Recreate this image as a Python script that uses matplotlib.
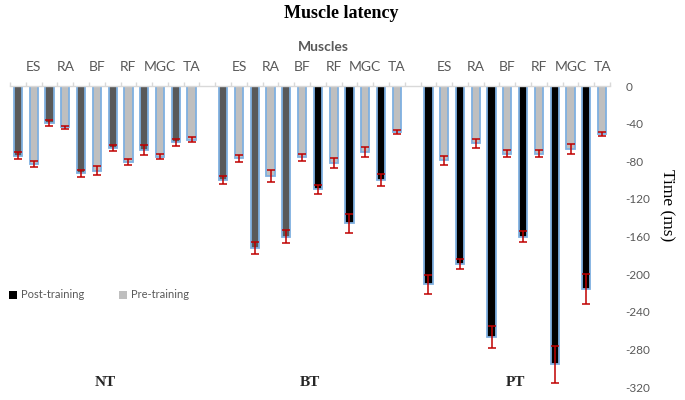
import matplotlib
matplotlib.use("Agg")
import matplotlib.pyplot as plt
from matplotlib.patches import Patch
from matplotlib.transforms import blended_transform_factory
import numpy as np

muscles = ["ES", "RA", "BF", "RF", "MGC", "TA"]
groups = ["NT", "BT", "PT"]

post_NT = [-74, -39, -93, -66, -68, -60]
pre_NT = [-83, -44, -90, -81, -75, -57]
post_NT_err = [4, 3, 3.5, 3, 5, 3.5]
pre_NT_err = [3.5, 1.5, 4.5, 3, 3, 2.5]

post_BT = [-100, -172, -160, -110, -146, -100]
pre_BT = [-77, -96, -76, -82, -70, -49]
post_BT_err = [4.5, 6.5, 6.5, 5, 10, 6]
pre_BT_err = [4, 6.5, 4, 5, 5.5, 2.5]

post_PT = [-211, -189, -267, -160, -296, -216]
pre_PT = [-79, -61, -72, -72, -67, -51]
post_PT_err = [10, 5.5, 11.5, 5.5, 20, 16]
pre_PT_err = [4.5, 5, 4, 3.5, 5, 2]

yticks = [0, -40, -80, -120, -160, -200, -240, -280, -320]

post = [post_NT, post_BT, post_PT]
pre = [pre_NT, pre_BT, pre_PT]
post_err = [post_NT_err, post_BT_err, post_PT_err]
pre_err = [pre_NT_err, pre_BT_err, pre_PT_err]

DARK = "#595959"
BLACK = "#000000"
LIGHT = "#bfbfbf"
EDGE = "#7fb0e0"
RED = "#c00000"
GRAY_TXT = "#595959"

post_colors = [
    [DARK] * 6,
    [DARK, DARK, DARK, BLACK, BLACK, BLACK],
    [BLACK] * 6,
]

W, H = 685, 400
fig = plt.figure(figsize=(W / 100, H / 100), dpi=100)
ax = fig.add_axes([10 / W, 1 - 387 / H, 600 / W, 301 / H])

width = 0.52
for g in range(3):
    base = g * 13
    xs_post = base + 2 * np.arange(6)
    xs_pre = xs_post + 1
    ax.bar(xs_post, post[g], width=width, color=post_colors[g], edgecolor=EDGE,
           linewidth=1.3, zorder=2)
    ax.bar(xs_pre, pre[g], width=width, color=LIGHT, edgecolor=EDGE,
           linewidth=1.3, zorder=2)
    ax.errorbar(xs_post, post[g], yerr=post_err[g], fmt="none", ecolor=RED,
                elinewidth=1.1, capsize=3, capthick=1.1, zorder=3)
    ax.errorbar(xs_pre, pre[g], yerr=pre_err[g], fmt="none", ecolor=RED,
                elinewidth=1.1, capsize=3, capthick=1.1, zorder=3)

ax.set_xlim(-0.5, 37.5)
ax.set_ylim(-320, 0)

for s in ["left", "right", "bottom"]:
    ax.spines[s].set_visible(False)
ax.spines["top"].set_color("#d9d9d9")
ax.spines["top"].set_linewidth(1.0)

ax.xaxis.set_ticks_position("top")
ax.set_xticks(np.arange(-0.5, 38, 1.0))
ax.set_xticklabels([])
ax.tick_params(axis="x", direction="out", length=3, color="#d9d9d9", width=1)

ax.yaxis.tick_right()
ax.set_yticks(yticks)
ax.set_yticklabels([str(t) for t in yticks], fontsize=8.5, color=GRAY_TXT,
                   family="Lato")
ax.tick_params(axis="y", length=0, pad=11)

# muscle labels above each group (at pre-training bar positions)
tr = blended_transform_factory(ax.transData, fig.transFigure)
for g in range(3):
    for i, m in enumerate(muscles):
        ax.text(g * 13 + 2 * i + 1, 1 - 67 / H, m, transform=tr, ha="center",
                va="center", fontsize=10, color=GRAY_TXT, family="Lato")

# group labels
for g, name in enumerate(groups):
    xc = g * 13 + 5.5
    ax.text(xc, 1 - 383 / H, name, transform=tr, ha="center", va="center",
            fontsize=11, fontweight="bold", family="Liberation Serif",
            color="#262626")

fig.text(341 / W, 1 - 14 / H, "Muscle latency", ha="center", va="center",
         fontsize=13, fontweight="bold", family="Liberation Serif")
fig.text(323 / W, 1 - 47 / H, "Muscles", ha="center", va="center",
         fontsize=10, fontweight="bold", family="Lato", color=GRAY_TXT)
fig.text(667 / W, 1 - 205 / H, "Time (ms)", ha="center", va="center",
         rotation=270, fontsize=12.5, family="Liberation Serif")

handles = [Patch(facecolor=BLACK, edgecolor="none"),
           Patch(facecolor=LIGHT, edgecolor="none")]
fig.legend(handles, ["Post-training", "Pre-training"], loc="center left",
           bbox_to_anchor=(-1 / W, 1 - 295 / H), ncol=2, frameon=False,
           handlelength=0.7, handleheight=0.7, handletextpad=0.4,
           columnspacing=3.1, prop={"family": "Lato", "size": 8},
           labelcolor=GRAY_TXT)

fig.savefig("out.png", dpi=100)
